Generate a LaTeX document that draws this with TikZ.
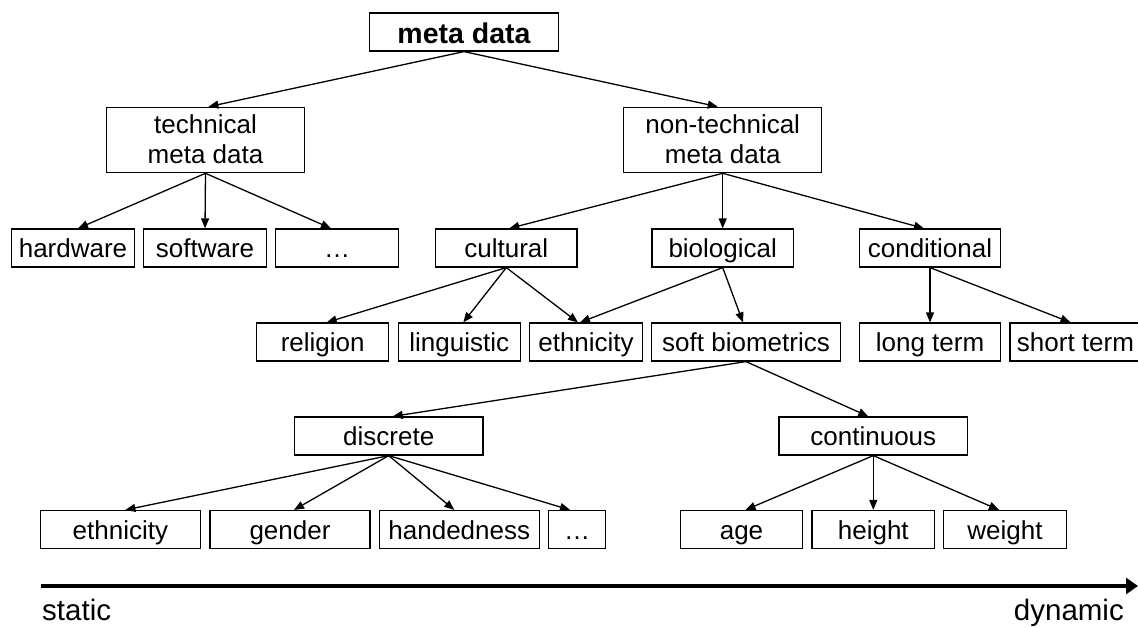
\documentclass[tikz,border=0pt]{standalone}
\usepackage{fontspec}
\setmainfont{Liberation Sans}
\usetikzlibrary{arrows.meta}
\begin{document}
\begin{tikzpicture}[x=1pt,y=-1pt,
  box/.style={draw=black, line width=1.2pt, inner sep=0pt, minimum height=38pt,
    text height=28.7pt, text depth=9.3pt,
    font=\fontsize{26pt}{30pt}\selectfont, align=center},
  twobox/.style={box, minimum width=198pt, text height=56pt, text depth=9.4pt},
  edge/.style={line width=1.3pt, -{Triangle[length=10pt,width=8pt]}},
  lbl/.style={inner sep=0pt, font=\fontsize{29.5pt}{34pt}\selectfont}]
\useasboundingbox (0,0) rectangle (1138,627);
% level 0
\node[box, minimum width=188.5pt, text height=30pt, text depth=8pt,
  font=\fontsize{28.5pt}{34pt}\selectfont\bfseries] (meta) at (464,32) {meta data};
% level 1
\node[twobox] (tech) at (205.5,140) {technical\\meta data};
\node[twobox] (ntech) at (722.7,140) {non-technical\\meta data};
% level 2
\node[box, minimum width=123pt] (hw) at (73,248) {hardware};
\node[box, minimum width=122.6pt] (sw) at (205,248) {software};
\node[box, minimum width=123pt] (ell1) at (337,248) {…};
\node[box, minimum width=141.5pt] (cult) at (506.3,248) {cultural};
\node[box, minimum width=141.5pt] (bio) at (722.7,248) {biological};
\node[box, minimum width=141.5pt] (cond) at (930,248) {conditional};
% level 3
\node[box, minimum width=132pt] (rel) at (322.7,342) {religion};
\node[box, minimum width=122pt] (ling) at (459.3,342) {linguistic};
\node[box, minimum width=112.7pt] (eth1) at (586,342) {ethnicity};
\node[box, minimum width=188.4pt] (soft) at (746,342) {soft biometrics};
\node[box, minimum width=141.5pt] (long) at (930,342) {long term};
\node[box, minimum width=131pt] (short) at (1075.5,342) {short term};
% level 4
\node[box, minimum width=188.4pt] (disc) at (388.7,436) {discrete};
\node[box, minimum width=188.6pt] (cont) at (873.3,436) {continuous};
% level 5
\node[box, minimum width=160pt] (eth2) at (120.4,529.5) {ethnicity};
\node[box, minimum width=160pt] (gend) at (290,529.5) {gender};
\node[box, minimum width=160pt] (hand) at (459.3,529.5) {handedness};
\node[box, minimum width=57pt] (ell2) at (577,529.5) {…};
\node[box, minimum width=122pt] (age) at (741.5,529.5) {age};
\node[box, minimum width=122.5pt] (hgt) at (873.3,529.5) {height};
\node[box, minimum width=123pt] (wgt) at (1005,529.5) {weight};
% connectors
\draw[edge] (meta.south) -- ([xshift=3pt]tech.north);
\draw[edge] (meta.south) -- ([xshift=-5pt]ntech.north);
\draw[edge] (tech.south) -- ([xshift=5pt]hw.north);
\draw[edge] (tech.south) -- (sw.north);
\draw[edge] (tech.south) -- ([xshift=-6pt]ell1.north);
\draw[edge] (ntech.south) -- ([xshift=3pt]cult.north);
\draw[edge] (ntech.south) -- (bio.north);
\draw[edge] (ntech.south) -- ([xshift=-6pt]cond.north);
\draw[edge] (cult.south) -- ([xshift=4pt]rel.north);
\draw[edge] (cult.south) -- ([xshift=4pt]ling.north);
\draw[edge] (cult.south) -- ([xshift=-8pt]eth1.north);
\draw[edge] (bio.south) -- ([xshift=-6pt]eth1.north);
\draw[edge] (bio.south) -- ([xshift=-3pt]soft.north);
\draw[edge] (cond.south) -- (long.north);
\draw[edge] (cond.south) -- ([xshift=-5pt]short.north);
\draw[edge] (soft.south) -- ([xshift=4pt]disc.north);
\draw[edge] (soft.south) -- ([xshift=-5pt]cont.north);
\draw[edge] (disc.south) -- ([xshift=5pt]eth2.north);
\draw[edge] (disc.south) -- ([xshift=4pt]gend.north);
\draw[edge] (disc.south) -- ([xshift=-5pt]hand.north);
\draw[edge] (disc.south) -- ([xshift=-7pt]ell2.north);
\draw[edge] (cont.south) -- ([xshift=4pt]age.north);
\draw[edge] (cont.south) -- (hgt.north);
\draw[edge] (cont.south) -- ([xshift=-6pt]wgt.north);
% axis
\coordinate (axl) at (40.5,586);
\coordinate (axr) at (1138,586);
\draw[line width=4pt, -{Triangle[length=12pt,width=16pt]}] (axl) -- (axr);
\node[lbl, anchor=base west] (static) at (42,620) {static};
\node[lbl, anchor=base east] (dynamic) at (1124,620) {dynamic};
\end{tikzpicture}
\end{document}
